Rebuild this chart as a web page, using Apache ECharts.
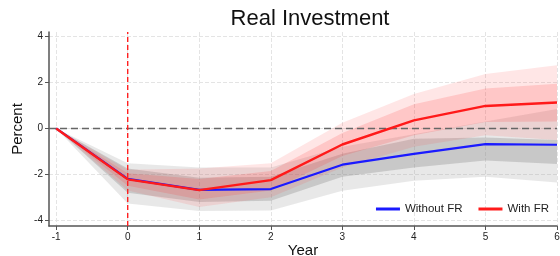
<!DOCTYPE html>
<html>
<head>
<meta charset="utf-8">
<script src="https://cdn.jsdelivr.net/npm/echarts@6/dist/echarts.min.js"></script>
<style>
  html, body { margin: 0; padding: 0; background: #fff; }
  #chart { width: 560px; height: 256px; }
</style>
</head>
<body>
<div id="chart"></div>
<script>
const years = [-1, 0, 1, 2, 3, 4, 5, 6];
const yTicks = [-4, -2, 0, 2, 4];
const shockYear = 0;
const baseline = 0;

// point estimates
const withoutFR = [0, -2.2, -2.68, -2.64, -1.58, -1.11, -0.68, -0.71];
const withFR = [0, -2.22, -2.69, -2.25, -0.7, 0.35, 0.98, 1.13];

// confidence bands
const withoutHi90 = [0, -1.52, -1.7, -1.7, -0.8, -0.25, 0.3, 0.85];
const withoutLo90 = [0, -3.27, -3.6, -3.57, -2.72, -2.28, -2.1, -2.35];
const withoutHi68 = [0, -1.75, -2.15, -2.1, -1.1, -0.45, -0.4, -0.5];
const withoutLo68 = [0, -2.8, -3.2, -3.15, -2.1, -1.7, -1.4, -1.55];

const withHi90 = [0, -1.8, -1.75, -1.52, 0.25, 1.5, 2.37, 2.75];
const withLo90 = [0, -2.7, -3.42, -3.0, -1.7, -0.8, -0.3, -0.5];
const withHi68 = [0, -1.95, -2.2, -1.85, -0.2, 1.05, 1.74, 1.95];
const withLo68 = [0, -2.5, -3.1, -2.7, -1.2, -0.3, 0.28, 0.3];

const xMin = -1.1, xMax = 6;
const yMin = -4.25, yMax = 4.2;

const chart = echarts.init(document.getElementById('chart'));

// one polygon per band, built from the arrays via the axis scales
function band(lo, hi, color) {
  return {
    type: 'custom', silent: true, z: 1,
    data: years.map((x, i) => [x, lo[i], hi[i]]),
    encode: { x: 0, y: [1, 2] },
    renderItem: function (params, api) {
      if (params.dataIndex !== 0) return null;
      const top = years.map((x, i) => api.coord([x, hi[i]]));
      const bot = years.map((x, i) => api.coord([x, lo[i]])).reverse();
      return {
        type: 'polygon',
        shape: { points: top.concat(bot) },
        style: { fill: color }
      };
    }
  };
}

// straight reference line between two data points
function refLine(p1, p2, color, dash, width, z) {
  return {
    type: 'custom', silent: true, z: z,
    data: [[p1[0], p1[1], p2[0], p2[1]]],
    encode: { x: [0, 2], y: [1, 3] },
    renderItem: function (params, api) {
      const a = api.coord([api.value(0), api.value(1)]);
      const b = api.coord([api.value(2), api.value(3)]);
      return {
        type: 'line',
        shape: { x1: a[0], y1: a[1], x2: b[0], y2: b[1] },
        style: { stroke: color, lineWidth: width, lineDash: dash, opacity: 1 }
      };
    }
  };
}

const option = {
  animation: false,
  title: {
    text: 'Real Investment',
    left: 305, top: 3, textAlign: 'center',
    textStyle: { fontFamily: 'Liberation Sans', fontSize: 22, fontWeight: 'normal', color: '#111' }
  },
  grid: { left: 49, right: 3, top: 32, bottom: 30, outerBoundsMode: 'none', containLabel: false },
  legend: {
    data: ['Without FR', 'With FR'],
    right: 6, bottom: 36,
    icon: 'rect', itemWidth: 24, itemHeight: 3, itemGap: 16,
    textStyle: { fontFamily: 'Liberation Sans', fontSize: 11.5, color: '#222' }
  },
  xAxis: {
    type: 'value', min: xMin, max: xMax,
    name: 'Year', nameLocation: 'middle', nameGap: 17, nameMoveOverlap: false,
    nameTextStyle: { fontFamily: 'Liberation Sans', fontSize: 15, color: '#111' },
    axisLine: { onZero: false, lineStyle: { color: '#555', width: 1.5 } },
    axisTick: { show: true, length: 4, customValues: years, lineStyle: { color: '#555' } },
    axisLabel: { customValues: years, fontFamily: 'Liberation Sans', fontSize: 10, color: '#222', margin: 6 },
    splitLine: { show: true, lineStyle: { type: 'dashed', color: '#e4e4e4' } }
  },
  yAxis: {
    type: 'value', min: yMin, max: yMax,
    name: 'Percent', nameLocation: 'middle', nameGap: 24, nameMoveOverlap: false,
    nameTextStyle: { fontFamily: 'Liberation Sans', fontSize: 15, color: '#111' },
    axisLine: { show: true, onZero: false, lineStyle: { color: '#555', width: 1.5 } },
    axisTick: { show: true, length: 4, customValues: yTicks, lineStyle: { color: '#555' } },
    axisLabel: { customValues: yTicks, fontFamily: 'Liberation Sans', fontSize: 10, color: '#222', margin: 6 },
    splitLine: { show: true, lineStyle: { type: 'dashed', color: '#e4e4e4' } }
  },
  series: [
    band(withoutLo90, withoutHi90, 'rgba(150,150,150,0.22)'),
    band(withoutLo68, withoutHi68, 'rgba(120,120,120,0.28)'),
    band(withLo90, withHi90, 'rgba(255,60,60,0.13)'),
    band(withLo68, withHi68, 'rgba(255,40,40,0.16)'),
    refLine([xMin, baseline], [xMax, baseline], '#666', [7, 4], 1.5, 2),
    refLine([shockYear, yMin], [shockYear, yMax], '#ff2020', [5, 3], 1.4, 5),
    {
      name: 'Without FR', type: 'line', symbol: 'none', z: 3,
      lineStyle: { color: '#1a1aff', width: 2.2 }, itemStyle: { color: '#1a1aff' },
      data: years.map((x, i) => [x, withoutFR[i]])
    },
    {
      name: 'With FR', type: 'line', symbol: 'none', z: 4,
      lineStyle: { color: '#ff1a1a', width: 2.4 }, itemStyle: { color: '#ff1a1a' },
      data: years.map((x, i) => [x, withFR[i]])
    }
  ]
};

chart.setOption(option);
</script>
</body>
</html>
